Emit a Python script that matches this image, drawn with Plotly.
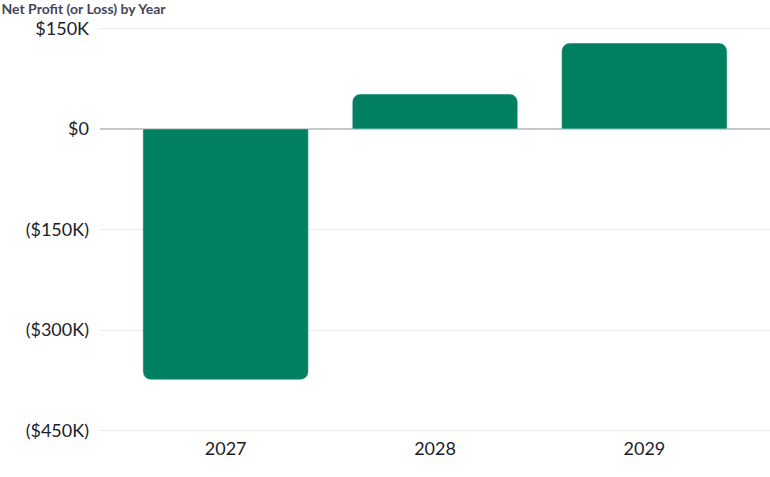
import plotly.graph_objects as go

# data
years = ["2027", "2028", "2029"]
net_profit = [-374000, 52000, 128000]

tick_vals = [150000, 0, -150000, -300000, -450000]
tick_text = ["$150K", "$0", "($150K)", "($300K)", "($450K)"]

fig = go.Figure()
fig.add_trace(go.Bar(x=years, y=net_profit, marker_color="#008060", width=0.79,
                     hoverinfo="skip"))

fig.update_layout(
    width=770, height=477,
    margin=dict(l=100, r=0, t=27, b=45, autoexpand=False),
    paper_bgcolor="white", plot_bgcolor="white",
    barcornerradius=8,
    showlegend=False,
    font=dict(family="Lato", color="#1b1d2a"),
    title=dict(text="<b>Net Profit (or Loss) by Year</b>", x=0.002, xref="container",
               xanchor="left", y=0.982, yanchor="middle", pad=dict(l=0, t=0),
               font=dict(size=14, color="#44475a")),
)
fig.update_xaxes(type="category", range=[-0.6, 2.6], showgrid=False, showline=False,
                 automargin=False, ticks="", tickfont=dict(size=18), ticklabelstandoff=4)
fig.update_yaxes(range=[-452000, 152000], tickvals=tick_vals, ticktext=tick_text,
                 automargin=False, showgrid=True, gridcolor="#ebebeb", gridwidth=1,
                 zeroline=True, zerolinecolor="#c8c8c8", zerolinewidth=1.5,
                 tickfont=dict(size=18), ticks="", ticklabelstandoff=10)

# body margin off so the figure sits at the page corner
fig.write_html("out.html", config={"displayModeBar": False},
               post_script="document.body.style.margin='0';document.body.style.overflow='hidden';")
